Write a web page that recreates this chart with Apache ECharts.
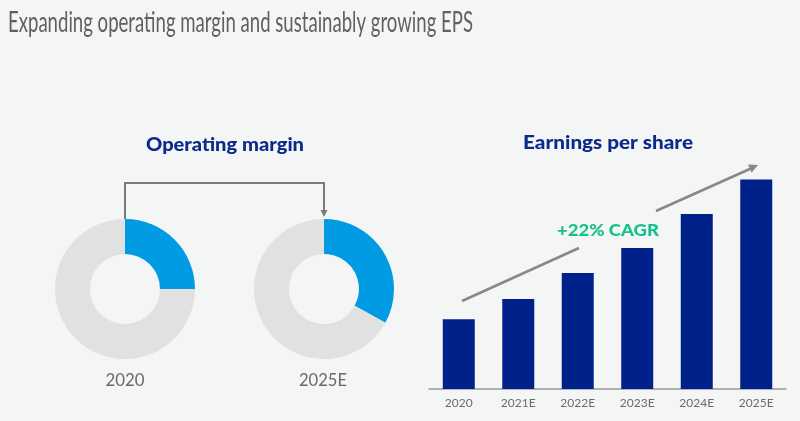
<!DOCTYPE html>
<html><head><meta charset="utf-8">
<script src="https://cdn.jsdelivr.net/npm/echarts@6/dist/echarts.min.js"></script>
<style>html,body{margin:0;padding:0;background:#f4f5f5}#c{width:800px;height:421px}</style>
</head><body><div id="c"></div>
<script>
// ---- data ----
const marginYears = ['2020', '2025E'];
const marginValues = [25, 33];          // operating margin share of ring (%)
const epsCategories = ['2020', '2021E', '2022E', '2023E', '2024E', '2025E'];
const epsValues = [3.88, 5.01, 6.46, 7.85, 9.74, 11.67];
const cagrLabel = '+22% CAGR';
const mainTitle = 'Expanding operating margin and sustainably growing EPS';

// ---- styles / layout ----
const BG = '#f4f5f5';
const NAVY = '#0b2a8a';
const BAR = '#00218a';
const BLUE = '#009be2';
const RING_GRAY = '#e1e1e1';
const ARROW = '#888888';
const pieCenters = [[125, 289], [324, 289]];
const pieR = [35, 70];

function measure(text, font) {
  const c = document.createElement('canvas').getContext('2d');
  c.font = font;
  return c.measureText(text).width;
}
// text element scaled horizontally to a target width
function fitText(text, font, fill, x, y, width, align) {
  const s = width / measure(text, font);
  const left = align === 'left';
  return {
    type: 'text', x: x, y: y, scaleX: s, silent: true,
    style: { text: text, x: 0, y: 0, font: font, fill: fill, align: left ? 'left' : 'center', verticalAlign: 'middle' }
  };
}

function arrowHead(tip, from, len, half, color) {
  const dx = tip[0] - from[0], dy = tip[1] - from[1];
  const d = Math.hypot(dx, dy), ux = dx / d, uy = dy / d;
  const bx = tip[0] - ux * len, by = tip[1] - uy * len;
  return {
    type: 'polygon', silent: true,
    shape: { points: [tip, [bx - uy * half, by + ux * half], [bx + uy * half, by - ux * half]] },
    style: { fill: color }
  };
}

const chart = echarts.init(document.getElementById('c'));

const pieSeries = marginValues.map((v, i) => ({
  type: 'pie',
  radius: pieR,
  center: pieCenters[i],
  startAngle: 90,
  clockwise: true,
  silent: true,
  label: { show: false },
  labelLine: { show: false },
  itemStyle: { borderWidth: 0 },
  data: [
    { value: v, itemStyle: { color: BLUE } },
    { value: 100 - v, itemStyle: { color: RING_GRAY } }
  ]
}));

const HEAVY = '900 18px Lato';
const graphics = [
  fitText(mainTitle, '400 28px Lato', '#606060', 8, 23, 465, 'left'),
  fitText('Operating margin', HEAVY, NAVY, 225, 145, 158),
  fitText('Earnings per share', HEAVY, NAVY, 608, 143, 170),
  fitText(cagrLabel, '900 17px Lato', '#17c08c', 608, 231, 102),
  // elbow connector between donuts
  {
    type: 'polyline', silent: true,
    shape: { points: [[pieCenters[0][0], 219], [pieCenters[0][0], 183], [pieCenters[1][0], 183], [pieCenters[1][0], 211]] },
    style: { stroke: '#7a7a7a', lineWidth: 2, fill: null }
  },
  arrowHead([pieCenters[1][0], 217], [pieCenters[1][0], 183], 7, 3.5, '#7a7a7a'),
  // CAGR arrow
  { type: 'line', silent: true, shape: { x1: 462, y1: 301, x2: 579, y2: 248 }, style: { stroke: ARROW, lineWidth: 2.5 } },
  { type: 'line', silent: true, shape: { x1: 656, y1: 211, x2: 752, y2: 168 }, style: { stroke: ARROW, lineWidth: 2.5 } },
  arrowHead([758, 165], [656, 211], 9, 4.5, ARROW)
];

marginYears.forEach((y, i) => {
  graphics.push(fitText(y, '400 18px Lato', '#6a6a6a', pieCenters[i][0] - (i ? 1 : 0), 380, i ? 48 : 39));
});

chart.setOption({
  backgroundColor: BG,
  animation: false,
  grid: { left: 429, width: 357, top: 137.6, bottom: 32, containLabel: false },
  xAxis: {
    type: 'category',
    data: epsCategories,
    axisLine: { lineStyle: { color: '#9a9a9a', width: 1.5 } },
    axisTick: { show: false },
    axisLabel: { color: '#6b6b6b', fontSize: 12, fontFamily: 'Lato', margin: 8 }
  },
  yAxis: { type: 'value', min: 0, max: 14, show: false, splitLine: { show: false } },
  series: [
    {
      type: 'bar', data: epsValues, barWidth: 32, silent: true,
      itemStyle: { color: BAR }
    },
    ...pieSeries
  ],
  graphic: graphics
});
</script>
</body></html>
